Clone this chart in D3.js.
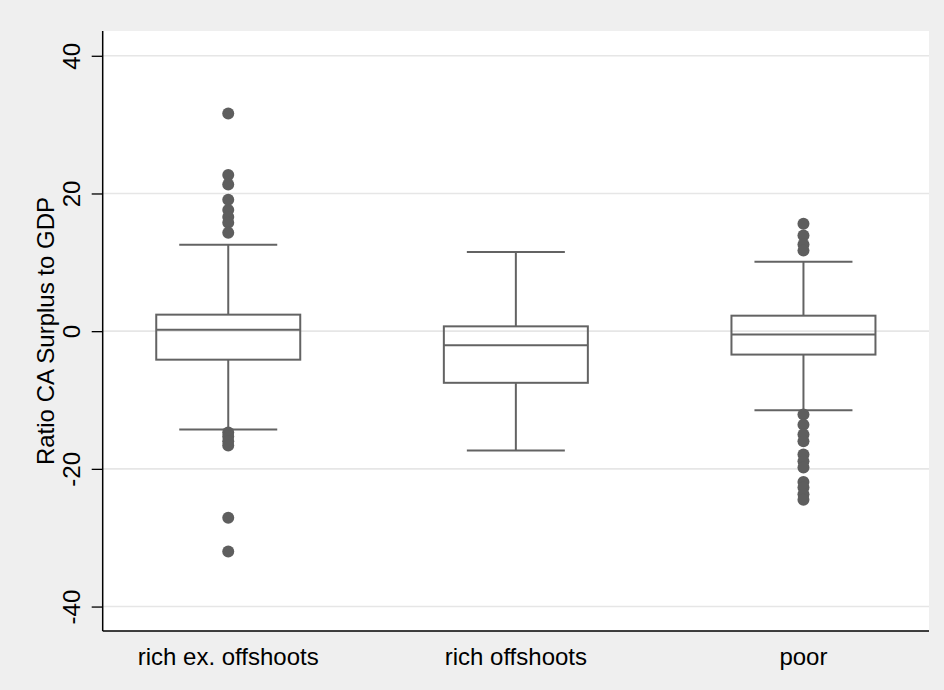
<!DOCTYPE html>
<html><head><meta charset="utf-8">
<script src="https://cdn.jsdelivr.net/npm/d3@7"></script>
<style>body{margin:0;background:#efefef}svg{display:block}</style>
</head><body><svg id="c" width="944" height="690"></svg>
<script>
const categories = ["rich ex. offshoots", "rich offshoots", "poor"];
const whiskerLow  = [-14.3, -17.35, -11.5];
const q1          = [-4.14, -7.5, -3.4];
const median      = [0.2, -2.06, -0.5];
const q3          = [2.4, 0.7, 2.25];
const whiskerHigh = [12.56, 11.5, 10.1];
const outliers = [
  [31.6, 22.7, 21.3, 19.1, 17.6, 16.6, 15.75, 14.3, -14.7, -15.3, -16.0, -16.6, -27.1, -32.0],
  [],
  [15.6, 13.9, 12.6, 11.7, -12.1, -13.6, -15.0, -16.0, -17.9, -18.9, -19.8, -21.9, -22.7, -23.7, -24.5]
];
const yTicks = [-40, -20, 0, 20, 40];
const yTitle = "Ratio CA Surplus to GDP";

const FONT = "Liberation Sans, Arial, sans-serif";
const svg = d3.select("#c");
const L = 102.7, R = 929, T = 31, B = 631;
svg.append("rect").attr("width",944).attr("height",690).attr("fill","#efefef");
svg.append("rect").attr("x",L).attr("y",T).attr("width",R-L).attr("height",B-T).attr("fill","#ffffff");

const y = d3.scaleLinear().domain([-43.55, 43.6]).range([B, T]);
const x = d3.scalePoint().domain(categories).range([L, R]).padding(0.4365);

// grid
svg.append("g").selectAll("line").data(yTicks).join("line")
  .attr("x1",L).attr("x2",R).attr("y1",d=>y(d)).attr("y2",d=>y(d))
  .attr("stroke","#e6e6e6").attr("stroke-width",1.6);

const col = "#636363";
const bw = 72, cw = 49;
const g = svg.append("g");
categories.forEach((c,i)=>{
  const cx = x(c);
  g.append("line").attr("x1",cx).attr("x2",cx).attr("y1",y(q3[i])).attr("y2",y(whiskerHigh[i])).attr("stroke",col).attr("stroke-width",2);
  g.append("line").attr("x1",cx).attr("x2",cx).attr("y1",y(q1[i])).attr("y2",y(whiskerLow[i])).attr("stroke",col).attr("stroke-width",2);
  g.append("line").attr("x1",cx-cw).attr("x2",cx+cw).attr("y1",y(whiskerHigh[i])).attr("y2",y(whiskerHigh[i])).attr("stroke",col).attr("stroke-width",2);
  g.append("line").attr("x1",cx-cw).attr("x2",cx+cw).attr("y1",y(whiskerLow[i])).attr("y2",y(whiskerLow[i])).attr("stroke",col).attr("stroke-width",2);
  g.append("rect").attr("x",cx-bw).attr("width",2*bw).attr("y",y(q3[i])).attr("height",y(q1[i])-y(q3[i]))
    .attr("fill","none").attr("stroke",col).attr("stroke-width",2);
  g.append("line").attr("x1",cx-bw).attr("x2",cx+bw).attr("y1",y(median[i])).attr("y2",y(median[i])).attr("stroke",col).attr("stroke-width",2);
  g.selectAll(null).data(outliers[i]).join("circle")
    .attr("cx",cx).attr("cy",d=>y(d)).attr("r",6).attr("fill","#5e5e5e");
});

// y axis
const ya = svg.append("g").attr("transform",`translate(${L},0)`)
  .call(d3.axisLeft(y).tickValues(yTicks).tickSize(11).tickSizeOuter(0).tickFormat(d=>String(d)));
ya.attr("font-family",FONT).attr("font-size",24);
ya.select(".domain").attr("stroke","#000").attr("stroke-width",1.5).attr("d",`M0,${T}V${B}`);
ya.selectAll(".tick line").attr("stroke","#000").attr("stroke-width",1.3);
ya.selectAll(".tick text").attr("fill","#000")
  .attr("transform","rotate(-90)").attr("x",0).attr("y",-31).attr("dy","0.35em").attr("text-anchor","middle");

svg.append("line").attr("x1",L).attr("x2",R).attr("y1",B).attr("y2",B).attr("stroke","#000").attr("stroke-width",1.5);

svg.append("g").selectAll("text").data(categories).join("text")
  .attr("x",d=>x(d)).attr("y",665).attr("text-anchor","middle")
  .attr("font-family",FONT).attr("font-size",24).attr("fill","#000").text(d=>d);

svg.append("text").attr("transform",`translate(54,${(T+B)/2}) rotate(-90)`).attr("text-anchor","middle")
  .attr("font-family",FONT).attr("font-size",24).attr("fill","#000").text(yTitle);
</script></body></html>
